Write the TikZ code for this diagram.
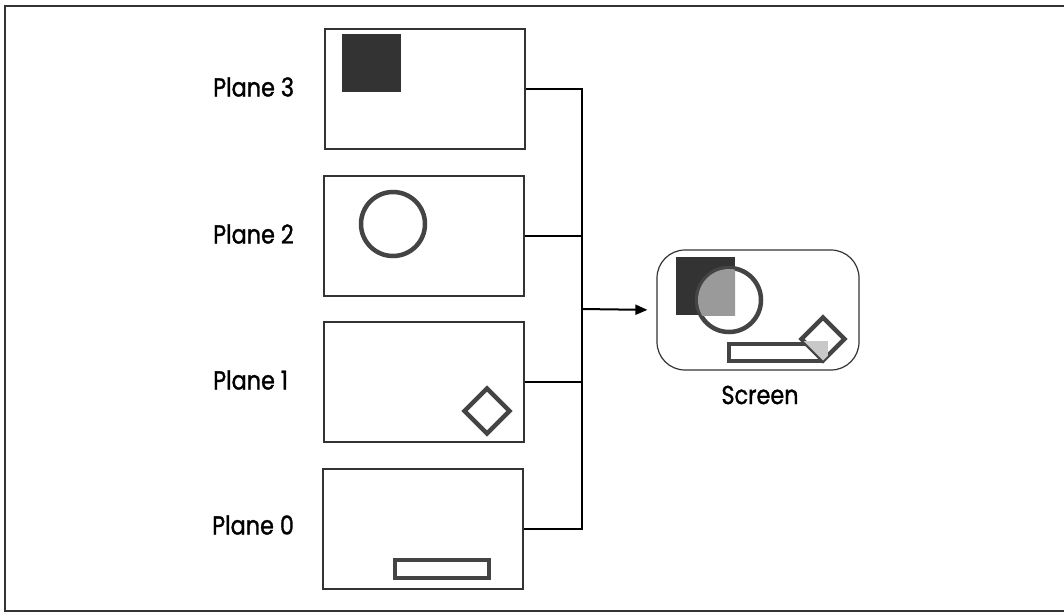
\documentclass[tikz,border=0pt]{standalone}
\usepackage{fontspec}
\setmainfont{Poppins}[FakeStretch=0.86,FakeBold=1.2]
\usetikzlibrary{arrows.meta}
\definecolor{ink}{HTML}{333333}
\definecolor{shape}{HTML}{444444}
\definecolor{midgray}{HTML}{9A9A9A}
\definecolor{lightgray}{HTML}{C8C8C8}
\tikzset{
  plane/.style={draw=ink, line width=2pt, minimum width=200pt, minimum height=120pt, inner sep=0pt},
  screenbox/.style={draw=ink, line width=1.2pt, rounded corners=28pt, minimum width=202pt, minimum height=120pt, inner sep=0pt},
  lbl/.style={font=\fontsize{26pt}{30pt}\selectfont, text=black, inner sep=0pt},
  wire/.style={draw=black, line width=2pt},
  shp/.style={draw=shape, line width=4.5pt},
}
\begin{document}
\begin{tikzpicture}[x=1pt,y=-1pt]
\useasboundingbox (0,0) rectangle (1064,614);
\fill[white] (0,0) rectangle (1064,614);
\begin{scope}
\clip (0,0) rectangle (1064,614);
\draw[ink, line width=2pt] (1080,6) -- (5,6) -- (5,611) -- (1080,611);
\end{scope}

% plane boxes
\node[plane] (p3) at (425,89) {};
\node[plane] (p2) at (424,235.5) {};
\node[plane] (p1) at (424,382) {};
\node[plane] (p0) at (423,528.5) {};

% labels
\node[lbl, anchor=west] (l3) at (213,87) {Plane 3};
\node[lbl, anchor=west] (l2) at (213,234) {Plane 2};
\node[lbl, anchor=west] (l1) at (213,380) {Plane 1};
\node[lbl, anchor=west] (l0) at (212,525) {Plane 0};

% plane contents
\fill[ink] (342,34) rectangle (401,92);
\draw[shp] (393,224) circle (32);
\draw[shp] (487,388.5) -- (509.5,411) -- (487,433.5) -- (464.5,411) -- cycle;
\draw[shp] (395,560) rectangle (489,578);

% screen
\node[screenbox] (scr) at (758,310) {};
\node[lbl] (sl) at (760,395) {Screen};
\fill[ink] (676,257) rectangle (735,315);
\draw[shp] (729,300) circle (32);
\begin{scope}
\clip (676,257) rectangle (735,315);
\fill[midgray] (729,300) circle (31);
\end{scope}
\draw[shp] (729,344) rectangle (820,361);
\draw[shp] (823,317.5) -- (844.5,339) -- (823,360.5) -- (801.5,339) -- cycle;
\begin{scope}
\clip (823,317.5) -- (844.5,339) -- (823,360.5) -- (801.5,339) -- cycle;
\fill[lightgray] (802,341) rectangle (828,366);
\end{scope}

% connectors
\coordinate (bus) at (582,309);
\draw[wire] (p3.east) -| (bus);
\draw[wire] (p0.east) -| (bus);
\draw[wire] (p2.east) -- (p2.east -| bus);
\draw[wire] (p1.east) -- (p1.east -| bus);
\draw[wire, -{Triangle[length=12pt,width=10pt]}, shorten >=9pt] (bus) -- (scr.west);
\end{tikzpicture}
\end{document}
